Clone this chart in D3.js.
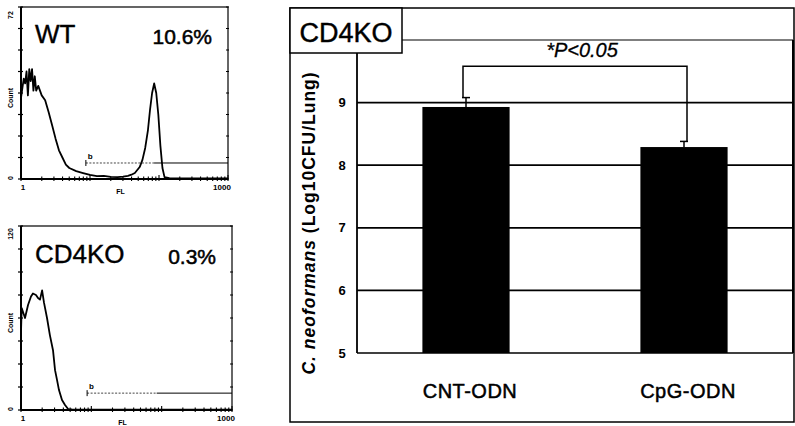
<!DOCTYPE html>
<html><head><meta charset="utf-8">
<script src="https://cdn.jsdelivr.net/npm/d3@7"></script>
<style>
html,body{margin:0;padding:0;background:#fff;}
svg{display:block;font-family:"Liberation Sans",Arial,sans-serif;}
</style></head>
<body><svg id="c" width="795" height="426"></svg>
<script>
// ---------- Bar chart data ----------
const categories = ["CNT-ODN", "CpG-ODN"];
const means = [8.93, 8.29];
const errors = [0.15, 0.09];
const yTicks = [5, 6, 7, 8, 9];
const gridValues = [6, 7, 8, 9];
const yDomain = [5, 10];
const bracketLevel = 9.58;
const sigLabel = "*P<0.05";
const panelTitle = "CD4KO";

// ---------- Histogram data (log10 fluorescence, count) ----------
const wtLogFL = [0.00,0.02,0.04,0.06,0.08,0.10,0.12,0.14,0.16,0.18,0.20,0.22,0.25,0.30,0.35,0.40,0.45,0.50,0.55,0.60,0.65,0.70,0.80,0.90,1.00,1.10,1.20,1.30,1.40,1.48,1.55,1.60,1.65,1.72,1.76,1.80,1.84,1.87,1.90,1.93,1.96,1.99,2.02,2.05,2.08,2.15,2.30,2.50,2.70,3.00];
const wtCount = [34,38,42,40,45,35,46,41,46,37,43,37,39,35,33,28,22.6,17,12,9,6,4.6,3.3,2.5,1.7,1.2,1.3,0.9,0.8,1.0,1.3,1.8,2.5,5,8,13,20.5,29,36,40,36,27,14,4.6,0.8,0.4,0.3,0.2,0.2,0.2];
const koLogFL = [0.00,0.01,0.057,0.10,0.142,0.17,0.213,0.242,0.27,0.30,0.327,0.37,0.41,0.455,0.484,0.512,0.54,0.583,0.626,0.67,0.725,0.85,1.0,1.3,1.6,2.0,2.5,3.0];
const koCount = [51,66.5,60,68.5,74,76,75,73,72,78,70,60,49,39,26,19.6,13,6.5,3.3,0.6,0.4,0.3,0.2,0.2,0.2,0.2,0.2,0.2];
const wtMax = 72, koMax = 120;
const gateLogStart = 0.94;
const gateLevelWT = 6.7, gateLevelKO = 11;
const histLabels = [{name: "WT", pct: "10.6%"}, {name: "CD4KO", pct: "0.3%"}];
const histXTicks = ["1", "1000"];

const svg = d3.select("#c");

// ---------- Histogram panels ----------
function histogram(cfg) {
  const g = svg.append("g");
  const x = d3.scaleLinear().domain([0, 3]).range([cfg.x0, cfg.x1]);
  const y = d3.scaleLinear().domain([0, cfg.max]).range([cfg.y1, cfg.y0]);
  g.append("rect").attr("x", cfg.x0).attr("y", cfg.y0)
    .attr("width", cfg.x1 - cfg.x0).attr("height", cfg.y1 - cfg.y0)
    .attr("fill", "none").attr("stroke", "#000").attr("stroke-width", 1.2);
  g.append("line").attr("x1", cfg.x0).attr("x2", cfg.x1).attr("y1", cfg.y1).attr("y2", cfg.y1)
    .attr("stroke", "#000").attr("stroke-width", 2);
  g.append("line").attr("x1", cfg.x0).attr("x2", cfg.x0).attr("y1", cfg.y0).attr("y2", cfg.y1)
    .attr("stroke", "#000").attr("stroke-width", 2);
  const yt = d3.range(0, cfg.max + 0.001, cfg.max / 8);
  g.selectAll(".lt").data(yt).enter().append("line")
    .attr("x1", cfg.x0 - 3).attr("x2", cfg.x0 + 2)
    .attr("y1", d => y(d)).attr("y2", d => y(d)).attr("stroke", "#000").attr("stroke-width", 1.2);
  g.selectAll(".rt").data(yt).enter().append("line")
    .attr("x1", cfg.x1 - 2).attr("x2", cfg.x1 + 1)
    .attr("y1", d => y(d)).attr("y2", d => y(d)).attr("stroke", "#000").attr("stroke-width", 1);
  const xt = [];
  for (let dec = 0; dec < 3; dec++) for (let m = 1; m < 10; m++) xt.push(dec + Math.log10(m));
  xt.push(3);
  g.selectAll(".bt").data(xt).enter().append("line")
    .attr("x1", d => x(d)).attr("x2", d => x(d))
    .attr("y1", cfg.y1 + 2).attr("y2", d => cfg.y1 - (Number.isInteger(Math.round(d*1000)/1000) ? 4 : 2.5))
    .attr("stroke", "#000").attr("stroke-width", 1.1);
  const pts = cfg.xs.map((d, i) => [d, cfg.ys[i]]);
  g.append("path").datum(pts)
    .attr("d", d3.line().x(d => x(d[0])).y(d => y(d[1])))
    .attr("fill", "none").attr("stroke", "#000").attr("stroke-width", 1.8).attr("stroke-linejoin", "round");
  const gy = y(cfg.gate);
  const gx = x(gateLogStart);
  const gmid = x(gateLogStart + (3 - gateLogStart) * 0.48);
  g.append("line").attr("x1", gx).attr("x2", gmid).attr("y1", gy).attr("y2", gy)
    .attr("stroke", "#444").attr("stroke-width", 1).attr("stroke-dasharray", "2,1.5");
  g.append("line").attr("x1", gmid).attr("x2", cfg.x1).attr("y1", gy).attr("y2", gy)
    .attr("stroke", "#000").attr("stroke-width", 1);
  g.append("line").attr("x1", gx).attr("x2", gx).attr("y1", gy - 3).attr("y2", gy + 3)
    .attr("stroke", "#000").attr("stroke-width", 1);
  g.append("text").attr("x", gx + 2).attr("y", gy - 4).attr("font-size", 8).attr("font-weight", "bold").text("b");
  g.append("text").attr("x", cfg.x0 + 14).attr("y", cfg.titleY).attr("font-size", 26)
    .attr("stroke", "#000").attr("stroke-width", 0.4).text(cfg.name);
  g.append("text").attr("x", cfg.x1 - 16).attr("y", cfg.titleY + 1).attr("text-anchor", "end")
    .attr("font-size", 21).attr("stroke", "#000").attr("stroke-width", 0.5).text(cfg.pct);
  const lab = (t, xx, yy) => g.append("text").attr("transform", `translate(${xx},${yy}) rotate(-90)`)
    .attr("text-anchor", "middle").attr("font-size", 7).attr("font-weight", "bold").text(t);
  lab(String(cfg.max), cfg.x0 - 8, cfg.y0 + 8);
  lab("Count", cfg.x0 - 8, (cfg.y0 + cfg.y1) / 2 + 5);
  lab("0", cfg.x0 - 8, cfg.y1 - 1);
  g.append("text").attr("x", x(0) + 2).attr("y", cfg.y1 + 11).attr("text-anchor", "middle")
    .attr("font-size", 8).attr("font-weight", "bold").text(histXTicks[0]);
  g.append("text").attr("x", x(3) - 6).attr("y", cfg.y1 + 11).attr("text-anchor", "middle")
    .attr("font-size", 8).attr("font-weight", "bold").text(histXTicks[1]);
  g.append("text").attr("x", x(1.5) - 4).attr("y", cfg.y1 + 15).attr("text-anchor", "middle")
    .attr("font-size", 7).attr("font-weight", "bold").text("FL");
}

histogram({x0: 21, x1: 228, y0: 7, y1: 179, max: wtMax, xs: wtLogFL, ys: wtCount,
  gate: gateLevelWT, name: histLabels[0].name, pct: histLabels[0].pct, titleY: 43});
histogram({x0: 21, x1: 232, y0: 226, y1: 410, max: koMax, xs: koLogFL, ys: koCount,
  gate: gateLevelKO, name: histLabels[1].name, pct: histLabels[1].pct, titleY: 263});

// ---------- Bar chart panel ----------
const L = 357, R = 793, T = 40, B = 353;
const y = d3.scaleLinear().domain(yDomain).range([B, T]);
const x = d3.scaleBand().domain(categories).range([L, R]).paddingInner(0.6).paddingOuter(0.3);

const g = svg.append("g");
g.append("rect").attr("x", 290).attr("y", 8).attr("width", 504).attr("height", 414)
  .attr("fill", "none").attr("stroke", "#000").attr("stroke-width", 1.5);
g.append("line").attr("x1", L).attr("x2", R).attr("y1", T).attr("y2", T).attr("stroke", "#000").attr("stroke-width", 1.2);
g.append("line").attr("x1", R).attr("x2", R).attr("y1", T).attr("y2", B).attr("stroke", "#000").attr("stroke-width", 2);
g.append("line").attr("x1", L).attr("x2", L).attr("y1", T).attr("y2", B).attr("stroke", "#000").attr("stroke-width", 1.8);
g.append("line").attr("x1", L).attr("x2", R).attr("y1", B).attr("y2", B).attr("stroke", "#000").attr("stroke-width", 1.5);
g.selectAll(".grid").data(gridValues).enter().append("line")
  .attr("x1", L).attr("x2", R).attr("y1", d => y(d)).attr("y2", d => y(d))
  .attr("stroke", "#000").attr("stroke-width", 1.8);
g.selectAll(".yt").data(yTicks).enter().append("text")
  .attr("x", 342).attr("y", d => y(d)).attr("dy", "0.35em").attr("text-anchor", "middle")
  .attr("font-size", 13).attr("font-weight", "bold").text(d => d);
g.selectAll(".bar").data(categories).enter().append("rect")
  .attr("x", d => x(d)).attr("width", x.bandwidth())
  .attr("y", (d, i) => y(means[i])).attr("height", (d, i) => y(yDomain[0]) - y(means[i]))
  .attr("fill", "#000");
categories.forEach((c, i) => {
  const cx = x(c) + x.bandwidth() / 2;
  g.append("line").attr("x1", cx).attr("x2", cx).attr("y1", y(means[i])).attr("y2", y(means[i] + errors[i]))
    .attr("stroke", "#000").attr("stroke-width", 1.5);
  g.append("line").attr("x1", cx - 4).attr("x2", cx + 4).attr("y1", y(means[i] + errors[i])).attr("y2", y(means[i] + errors[i]))
    .attr("stroke", "#000").attr("stroke-width", 1.5);
});
const bx0 = x(categories[0]) + x.bandwidth() / 2 - 3;
const bx1 = x(categories[1]) + x.bandwidth() / 2 + 3;
g.append("path")
  .attr("d", `M${bx0},${y(means[0] + errors[0])}V${y(bracketLevel)}H${bx1}V${y(means[1] + errors[1])}`)
  .attr("fill", "none").attr("stroke", "#000").attr("stroke-width", 1.5);
g.append("text").attr("x", (bx0 + bx1) / 2 + 7).attr("y", y(bracketLevel) - 9)
  .attr("text-anchor", "middle").attr("font-size", 20).attr("font-style", "italic")
  .attr("stroke", "#000").attr("stroke-width", 0.3).text(sigLabel);
g.selectAll(".cat").data(categories).enter().append("text")
  .attr("x", d => x(d) + x.bandwidth() / 2 + 4).attr("y", 398).attr("text-anchor", "middle")
  .attr("font-size", 20).attr("letter-spacing", 0.5).attr("stroke", "#000").attr("stroke-width", 0.5).text(d => d);
const yt = g.append("text").attr("transform", "translate(315,223) rotate(-90)")
  .attr("text-anchor", "middle").attr("font-size", 17.5).attr("font-weight", "bold").attr("letter-spacing", 1);
yt.append("tspan").attr("font-style", "italic").text("C. neoformans ");
yt.append("tspan").text("(Log10CFU/Lung)");
g.append("rect").attr("x", 290).attr("y", 8).attr("width", 112).attr("height", 45)
  .attr("fill", "#fff").attr("stroke", "#000").attr("stroke-width", 1.5);
g.append("text").attr("x", 346).attr("y", 42).attr("text-anchor", "middle").attr("font-size", 27)
  .attr("stroke", "#000").attr("stroke-width", 0.4).text(panelTitle);
</script></body></html>
